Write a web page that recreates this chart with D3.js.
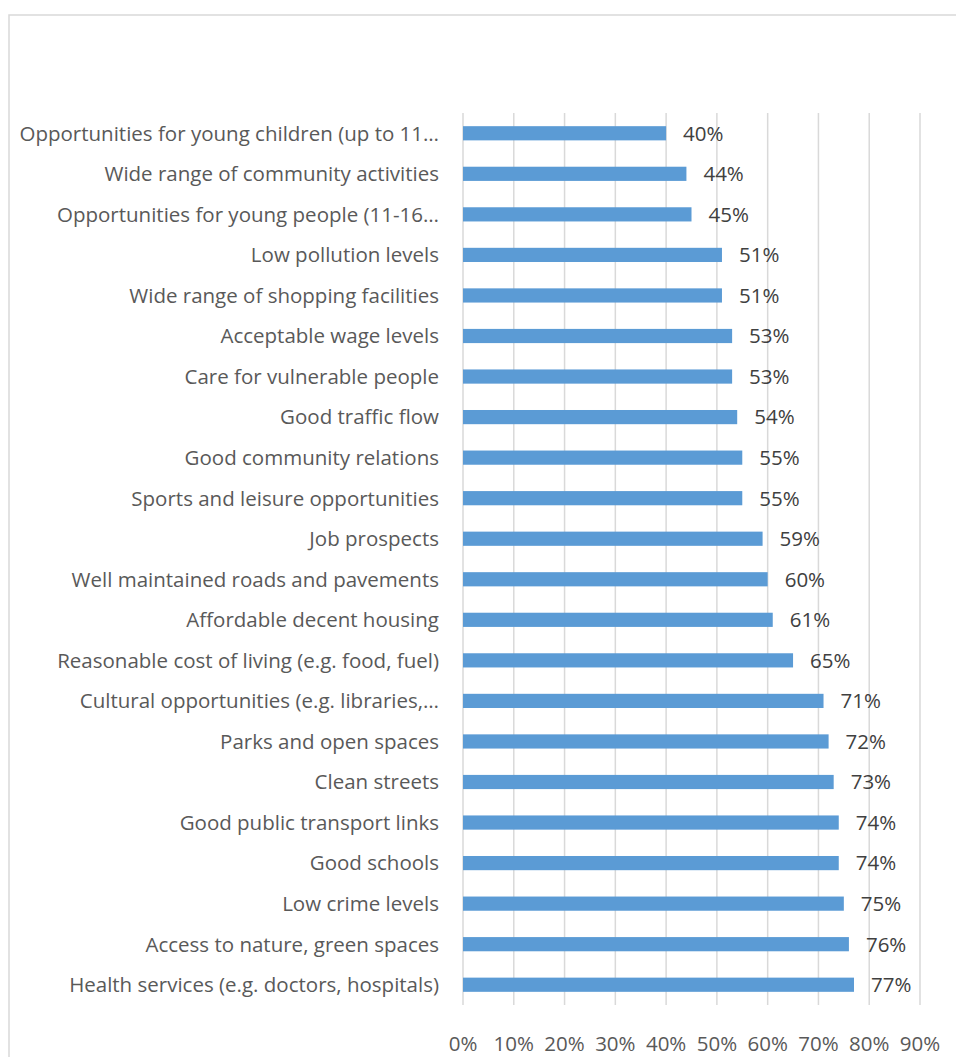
<!DOCTYPE html>
<html>
<head>
<meta charset="utf-8">
<script src="https://cdn.jsdelivr.net/npm/d3@7"></script>
<style>
  body { margin: 0; background: #fff; }
  svg { display: block; font-family: "Open Sans", Lato, sans-serif; }
</style>
</head>
<body>
<div id="chart"></div>
<script>
// categories from top to bottom, as in the picture
const categories = [
    "Opportunities for young children (up to 11\u2026",
    "Wide range of community activities",
    "Opportunities for young people (11-16\u2026",
    "Low pollution levels",
    "Wide range of shopping facilities",
    "Acceptable wage levels",
    "Care for vulnerable people",
    "Good traffic flow",
    "Good community relations",
    "Sports and leisure opportunities",
    "Job prospects",
    "Well maintained roads and pavements",
    "Affordable decent housing",
    "Reasonable cost of living (e.g. food, fuel)",
    "Cultural opportunities (e.g. libraries,\u2026",
    "Parks and open spaces",
    "Clean streets",
    "Good public transport links",
    "Good schools",
    "Low crime levels",
    "Access to nature, green spaces",
    "Health services (e.g. doctors, hospitals)"
];
const values = [40, 44, 45, 51, 51, 53, 53, 54, 55, 55, 59, 60, 61, 65, 71, 72, 73, 74, 74, 75, 76, 77];
const xTicks = [0, 10, 20, 30, 40, 50, 60, 70, 80, 90];

const width = 956, height = 1057;
const margin = { top: 113, left: 463, right: 36, bottom: 52 };
const fontSize = 20.5;

const svg = d3.select("#chart")
    .append("svg")
    .attr("width", width)
    .attr("height", height);

// chart frame (runs off the right and bottom of the picture)
svg.append("rect")
    .attr("x", 9)
    .attr("y", 15)
    .attr("width", 1000)
    .attr("height", 1100)
    .attr("fill", "none")
    .attr("stroke", "#d9d9d9")
    .attr("stroke-width", 1.5);

const x = d3.scaleLinear()
    .domain([0, 90])
    .range([margin.left, width - margin.right]);

const y = d3.scaleBand()
    .domain(categories)
    .range([margin.top, height - margin.bottom])
    .paddingInner(0.65)
    .paddingOuter(0.325);

// vertical gridlines
svg.append("g")
    .selectAll("line")
    .data(xTicks)
    .enter()
    .append("line")
    .attr("x1", d => x(d))
    .attr("x2", d => x(d))
    .attr("y1", margin.top)
    .attr("y2", height - margin.bottom)
    .attr("stroke", "#d9d9d9")
    .attr("stroke-width", 1.5);

// bars
svg.append("g")
    .selectAll("rect")
    .data(values)
    .enter()
    .append("rect")
    .attr("x", x(0))
    .attr("y", (d, i) => y(categories[i]))
    .attr("width", d => x(d) - x(0))
    .attr("height", y.bandwidth())
    .attr("fill", "#5b9bd5");

// value labels
svg.append("g")
    .selectAll("text")
    .data(values)
    .enter()
    .append("text")
    .attr("x", d => x(d) + 17)
    .attr("y", (d, i) => y(categories[i]) + y.bandwidth() / 2)
    .attr("dy", "0.36em")
    .attr("font-size", fontSize)
    .attr("fill", "#404040")
    .text(d => d + "%");

// category axis labels
svg.append("g")
    .selectAll("text")
    .data(categories)
    .enter()
    .append("text")
    .attr("x", 439)
    .attr("y", d => y(d) + y.bandwidth() / 2)
    .attr("dy", "0.36em")
    .attr("text-anchor", "end")
    .attr("font-size", fontSize)
    .attr("fill", "#595959")
    .text(d => d);

// x axis tick labels
svg.append("g")
    .selectAll("text")
    .data(xTicks)
    .enter()
    .append("text")
    .attr("x", d => x(d))
    .attr("y", 1044)
    .attr("dy", "0.36em")
    .attr("text-anchor", "middle")
    .attr("font-size", fontSize)
    .attr("fill", "#595959")
    .text(d => d + "%");
</script>
</body>
</html>
